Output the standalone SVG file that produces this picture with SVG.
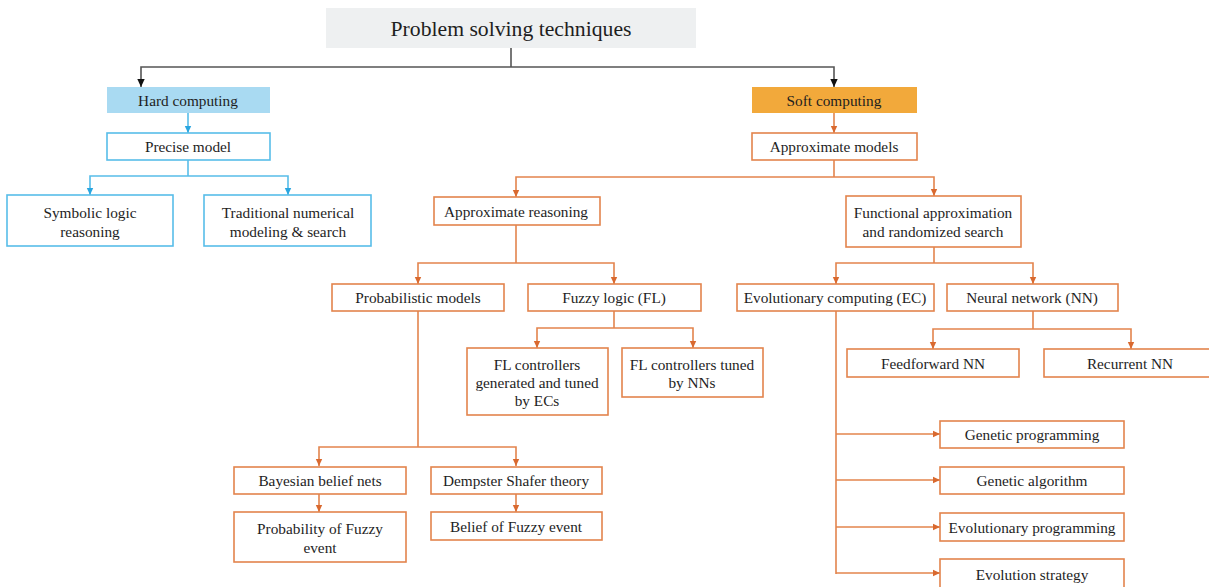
<svg xmlns="http://www.w3.org/2000/svg" width="1209" height="587" viewBox="0 0 1209 587">
  <style>
    text { font-family: "Liberation Serif", "Times New Roman", serif; font-size: 15.3px; fill: #1e1e1e; text-anchor: middle; dominant-baseline: central; }
    .title { font-size: 21.7px; }
    .box-o { fill: #fff; stroke: #e3844d; stroke-width: 1.6; }
    .box-b { fill: #fff; stroke: #58bde9; stroke-width: 1.6; }
    .ln-o { fill: none; stroke: #e3844d; stroke-width: 1.6; }
    .ln-b { fill: none; stroke: #58bde9; stroke-width: 1.6; }
    .ln-k { fill: none; stroke: #555; stroke-width: 1.6; }
  </style>
  <defs>
    <marker id="ah-o" markerWidth="8" markerHeight="8" refX="7" refY="4" orient="auto" markerUnits="userSpaceOnUse">
      <path d="M0,0.8 L7,4 L0,7.2 Z" fill="#d9692f"/>
    </marker>
    <marker id="ah-b" markerWidth="8" markerHeight="8" refX="7" refY="4" orient="auto" markerUnits="userSpaceOnUse">
      <path d="M0,0.8 L7,4 L0,7.2 Z" fill="#2aa6e0"/>
    </marker>
    <marker id="ah-k" markerWidth="9" markerHeight="9" refX="8" refY="4.5" orient="auto" markerUnits="userSpaceOnUse">
      <path d="M0,0.8 L8,4.5 L0,8.2 Z" fill="#111"/>
    </marker>
  </defs>

  <!-- connectors -->
  <g id="connectors">
    <path class="ln-k" d="M511,48 V67"/>
    <path class="ln-k" d="M511,67 H141 V87" marker-end="url(#ah-k)"/>
    <path class="ln-k" d="M511,67 H834 V87" marker-end="url(#ah-k)"/>

    <path class="ln-b" d="M188,113 V133" marker-end="url(#ah-b)"/>
    <path class="ln-b" d="M188,160 V176"/>
    <path class="ln-b" d="M188,176 H90 V195" marker-end="url(#ah-b)"/>
    <path class="ln-b" d="M188,176 H288 V195" marker-end="url(#ah-b)"/>

    <path class="ln-o" d="M834,113 V133" marker-end="url(#ah-o)"/>
    <path class="ln-o" d="M834,160 V177"/>
    <path class="ln-o" d="M834,177 H516 V197" marker-end="url(#ah-o)"/>
    <path class="ln-o" d="M834,177 H934 V196" marker-end="url(#ah-o)"/>

    <path class="ln-o" d="M516,225 V263"/>
    <path class="ln-o" d="M516,263 H418 V284" marker-end="url(#ah-o)"/>
    <path class="ln-o" d="M516,263 H614 V284" marker-end="url(#ah-o)"/>

    <path class="ln-o" d="M934,247 V263"/>
    <path class="ln-o" d="M934,263 H836 V284" marker-end="url(#ah-o)"/>
    <path class="ln-o" d="M934,263 H1033 V284" marker-end="url(#ah-o)"/>

    <path class="ln-o" d="M614,311 V328"/>
    <path class="ln-o" d="M614,328 H537 V348" marker-end="url(#ah-o)"/>
    <path class="ln-o" d="M614,328 H693 V348" marker-end="url(#ah-o)"/>

    <path class="ln-o" d="M1033,311 V329"/>
    <path class="ln-o" d="M1033,329 H933 V349" marker-end="url(#ah-o)"/>
    <path class="ln-o" d="M1033,329 H1131 V349" marker-end="url(#ah-o)"/>

    <path class="ln-o" d="M418,311 V447"/>
    <path class="ln-o" d="M418,447 H319 V466" marker-end="url(#ah-o)"/>
    <path class="ln-o" d="M418,447 H516 V466" marker-end="url(#ah-o)"/>
    <path class="ln-o" d="M319,494 V512" marker-end="url(#ah-o)"/>
    <path class="ln-o" d="M516,494 V512" marker-end="url(#ah-o)"/>

    <path class="ln-o" d="M836,311 V574"/>
    <path class="ln-o" d="M836,434 H940" marker-end="url(#ah-o)"/>
    <path class="ln-o" d="M836,480 H940" marker-end="url(#ah-o)"/>
    <path class="ln-o" d="M836,527 H940" marker-end="url(#ah-o)"/>
    <path class="ln-o" d="M836,573 H940" marker-end="url(#ah-o)"/>
  </g>

  <g id="root">
    <rect x="326" y="8" width="370" height="40" fill="#eef0f1"/>
    <text class="title" x="511" y="29">Problem solving techniques</text>
  </g>

  <!-- hard computing branch -->
  <g id="hard">
    <rect x="107" y="87" width="163" height="26" fill="#a9daf2"/>
    <text x="188" y="100">Hard computing</text>
  </g>
  <g id="precise">
    <rect class="box-b" x="107" y="133" width="163" height="27"/>
    <text x="188" y="146.5">Precise model</text>
  </g>
  <g id="symbolic">
    <rect class="box-b" x="7" y="195" width="166" height="51"/>
    <text x="90" y="212">Symbolic logic</text>
    <text x="90" y="231">reasoning</text>
  </g>
  <g id="traditional">
    <rect class="box-b" x="204" y="195" width="167" height="51"/>
    <text x="288" y="212">Traditional numerical</text>
    <text x="288" y="231">modeling &amp; search</text>
  </g>

  <!-- soft computing branch -->
  <g id="soft">
    <rect x="752" y="87" width="165" height="26" fill="#f2a93b"/>
    <text x="834" y="100">Soft computing</text>
  </g>
  <g id="approx-models">
    <rect class="box-o" x="752" y="133" width="165" height="27"/>
    <text x="834" y="146.5">Approximate models</text>
  </g>
  <g id="approx-reasoning">
    <rect class="box-o" x="434" y="197" width="166" height="28"/>
    <text x="516" y="211">Approximate reasoning</text>
  </g>
  <g id="functional">
    <rect class="box-o" x="846" y="196" width="175" height="51"/>
    <text x="933" y="212">Functional approximation</text>
    <text x="933" y="231">and randomized search</text>
  </g>
  <g id="probabilistic">
    <rect class="box-o" x="332" y="284" width="172" height="27"/>
    <text x="418" y="297.5">Probabilistic models</text>
  </g>
  <g id="fuzzy">
    <rect class="box-o" x="528" y="284" width="173" height="27"/>
    <text x="614" y="297.5">Fuzzy logic (FL)</text>
  </g>
  <g id="ec">
    <rect class="box-o" x="737" y="284" width="197" height="27"/>
    <text x="835" y="297.5">Evolutionary computing (EC)</text>
  </g>
  <g id="nn">
    <rect class="box-o" x="947" y="284" width="171" height="27"/>
    <text x="1032" y="297.5">Neural network (NN)</text>
  </g>
  <g id="fl-ec">
    <rect class="box-o" x="467" y="348" width="141" height="67"/>
    <text x="537" y="364">FL controllers</text>
    <text x="537" y="382">generated and tuned</text>
    <text x="537" y="400">by ECs</text>
  </g>
  <g id="fl-nn">
    <rect class="box-o" x="622" y="348" width="141" height="49"/>
    <text x="692" y="364">FL controllers tuned</text>
    <text x="692" y="382">by NNs</text>
  </g>
  <g id="feedforward">
    <rect class="box-o" x="847" y="349" width="172" height="28"/>
    <text x="933" y="363">Feedforward NN</text>
  </g>
  <g id="recurrent">
    <rect class="box-o" x="1044" y="349" width="170" height="28"/>
    <text x="1130" y="363">Recurrent NN</text>
  </g>
  <g id="bayesian">
    <rect class="box-o" x="234" y="467" width="172" height="27"/>
    <text x="320" y="480.5">Bayesian belief nets</text>
  </g>
  <g id="dempster">
    <rect class="box-o" x="431" y="467" width="171" height="27"/>
    <text x="516" y="480.5">Dempster Shafer theory</text>
  </g>
  <g id="prob-fuzzy">
    <rect class="box-o" x="234" y="512" width="172" height="50"/>
    <text x="320" y="528">Probability of Fuzzy</text>
    <text x="320" y="547">event</text>
  </g>
  <g id="belief-fuzzy">
    <rect class="box-o" x="431" y="512" width="171" height="28"/>
    <text x="516" y="526">Belief of Fuzzy event</text>
  </g>
  <g id="gp">
    <rect class="box-o" x="940" y="421" width="184" height="27"/>
    <text x="1032" y="434.5">Genetic programming</text>
  </g>
  <g id="ga">
    <rect class="box-o" x="940" y="467" width="184" height="27"/>
    <text x="1032" y="480.5">Genetic algorithm</text>
  </g>
  <g id="ep">
    <rect class="box-o" x="940" y="513" width="184" height="28"/>
    <text x="1032" y="527">Evolutionary programming</text>
  </g>
  <g id="es">
    <rect class="box-o" x="940" y="559" width="184" height="30"/>
    <text x="1032" y="574">Evolution strategy</text>
  </g>
</svg>
